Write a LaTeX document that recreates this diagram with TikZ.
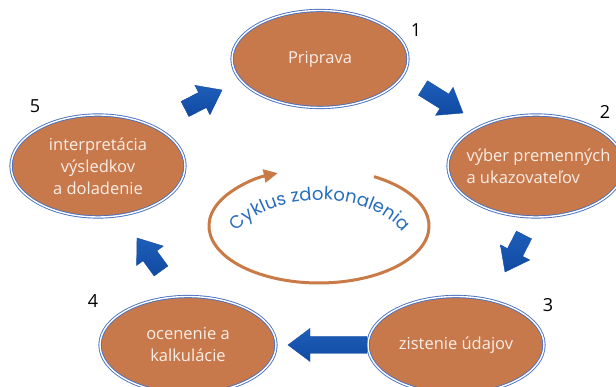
\documentclass[tikz,border=0pt]{standalone}
\usepackage{fontspec}
\setmainfont{Open Sans}
\newfontfamily\cycfont{Poppins}
\usetikzlibrary{shapes.geometric,calc,decorations.text,arrows.meta}
\definecolor{ellfill}{RGB}{200,121,76}
\definecolor{ellline}{RGB}{74,112,190}
\definecolor{arrblue}{RGB}{16,74,162}
\definecolor{arrlight}{RGB}{30,94,185}
\definecolor{cycline}{RGB}{201,122,70}
\definecolor{cyctext}{RGB}{40,110,190}
\definecolor{txtwhite}{RGB}{250,238,230}
\tikzset{
  stage/.style={ellipse, fill=ellfill, draw=ellline, double=white, double distance=1.4pt,
    line width=0.9pt, minimum width=176pt, minimum height=97pt, inner sep=0pt,
    text=txtwhite, font=\fontsize{16.5}{22}\selectfont, align=center},
  num/.style={font=\fontsize{18}{20}\selectfont, text=black},
  barrowfill/.style={top color=arrlight, bottom color=arrblue, draw=arrblue, line width=0.4pt, line join=miter}
}
\newcommand{\blockarrow}[3]{%
  \coordinate (#3h) at ($(#2)!22pt!(#1)$);
  \path[barrowfill] ($(#1)!8.5pt!90:(#2)$) -- ($(#3h)!8.5pt!-90:(#1)$) -- ($(#3h)!16.5pt!-90:(#1)$) -- (#2)
     -- ($(#3h)!16.5pt!90:(#1)$) -- ($(#3h)!8.5pt!90:(#1)$) -- ($(#1)!8.5pt!-90:(#2)$) -- cycle;
}
\begin{document}
\begin{tikzpicture}[x=1pt,y=1pt]
\useasboundingbox (0,0) rectangle (616,387);
% stages
\node[stage] (s1) at (320,328) {Priprava};
\node[stage, minimum height=102pt] (s2) at (536,221) {};
\node[text=txtwhite, font=\fontsize{16.5}{22}\selectfont, align=left, anchor=west] (s2t) at (463,221) {výber premenných\\a ukazovateľov};
\node[stage] (s3) at (456,42) {zistenie údajov};
\node[stage] (s4) at (188,42) {ocenenie a\\kalkulácie};
\node[stage, minimum width=174pt, minimum height=102pt] (s5) at (98,221) {interpretácia\\výsledkov\\a doladenie};
% numbers
\node[num] (n1) at (416,357) {1};
\node[num] (n2) at (605,275) {2};
\node[num] (n3) at (548,82) {3};
\node[num] (n4) at (93,86) {4};
\node[num] (n5) at (35,281) {5};
% block arrows
\coordinate (t12) at (423,299); \coordinate (p12) at (463,274);
\coordinate (t23) at (524,152); \coordinate (p23) at (505,115);
\coordinate (t34) at (367,42);  \coordinate (p34) at (288,42);
\coordinate (t45) at (161,116); \coordinate (p45) at (137,149);
\coordinate (t51) at (185,278); \coordinate (p51) at (222,297);
\blockarrow{t12}{p12}{a12}
\blockarrow{t23}{p23}{a23}
\blockarrow{t34}{p34}{a34}
\blockarrow{t45}{p45}{a45}
\blockarrow{t51}{p51}{a51}
% cycle
\coordinate (cc) at (319,161);
\draw[cycline, line width=3pt, -{Triangle[length=14pt,width=13pt]}]
  ([shift={(60:110pt and 57pt)}]cc) arc[start angle=60, end angle=-248, x radius=110pt, y radius=57pt];
\path[decorate, decoration={text along path, text align=center,
   text={|\cycfont\fontsize{18}{20}\selectfont\color{cyctext}|Cyklus zdokonalenia}}]
  ([shift={(165:92pt and 57pt)}]320,130) arc[start angle=165, end angle=15, x radius=92pt, y radius=57pt];
\end{tikzpicture}
\end{document}
